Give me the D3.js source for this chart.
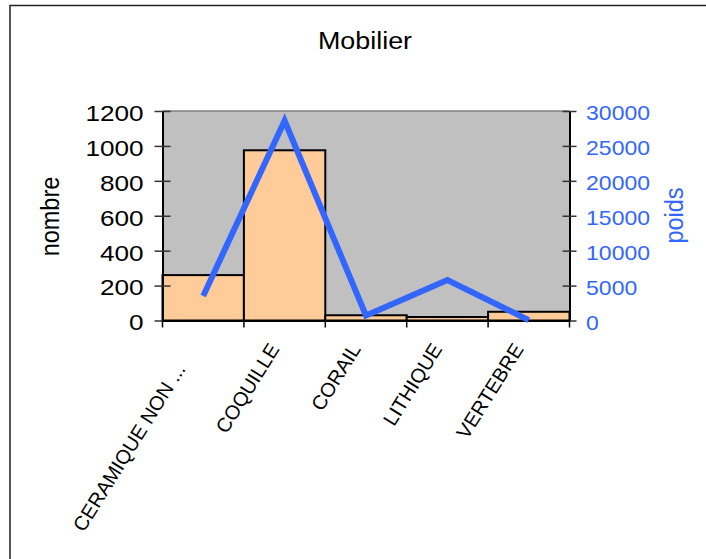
<!DOCTYPE html>
<html>
<head>
<meta charset="utf-8">
<script src="https://cdn.jsdelivr.net/npm/d3@7"></script>
<style>
  body { margin: 0; background: #fff; }
  text { font-family: "Liberation Sans", Arial, sans-serif; }
</style>
</head>
<body>
<svg id="chart" width="706" height="559"></svg>
<script>
// data
var categories = ['CERAMIQUE NON ...', 'COQUILLE', 'CORAIL', 'LITHIQUE', 'VERTEBRE'];
var nombre = [260, 975, 30, 20, 50];
var poids = [3500, 28600, 700, 5800, 50];
var nombreTicks = [0, 200, 400, 600, 800, 1000, 1200];
var poidsTicks = [0, 5000, 10000, 15000, 20000, 25000, 30000];

var svg = d3.select('#chart');
var plot = { left: 162.5, right: 569.5, top: 111, bottom: 320.5 };
var blue = '#3366ff';

// outer frame (clipped on right / bottom like the original)
svg.append('rect')
    .attr('x', 10).attr('y', 5.5)
    .attr('width', 720).attr('height', 600)
    .attr('fill', 'none').attr('stroke', '#222').attr('stroke-width', 1.5);

var x = d3.scaleBand().domain(categories).range([plot.left, plot.right]).padding(0);
var yL = d3.scaleLinear().domain([0, 1200]).range([plot.bottom, plot.top]);
var yR = d3.scaleLinear().domain([0, 30000]).range([plot.bottom, plot.top]);

// plot background
svg.append('rect')
    .attr('x', plot.left).attr('y', plot.top)
    .attr('width', plot.right - plot.left).attr('height', plot.bottom - plot.top)
    .attr('fill', '#c0c0c0');
svg.append('line')
    .attr('x1', plot.left).attr('x2', plot.right)
    .attr('y1', plot.top).attr('y2', plot.top)
    .attr('stroke', '#808080').attr('stroke-width', 1.5);

// bars
svg.selectAll('.bar')
    .data(nombre)
    .enter().append('rect')
    .attr('class', 'bar')
    .attr('x', function(d, i) { return x(categories[i]); })
    .attr('y', function(d) { return yL(d); })
    .attr('width', x.bandwidth())
    .attr('height', function(d) { return yL(0) - yL(d); })
    .attr('fill', '#ffcc99')
    .attr('stroke', '#000')
    .attr('stroke-width', 2);

// axes
var axL = svg.append('g')
    .attr('transform', 'translate(' + plot.left + ',0)')
    .call(d3.axisLeft(yL).tickValues(nombreTicks).tickFormat(d3.format('d')).tickSizeInner(8).tickSizeOuter(0));
axL.selectAll('.tick line').attr('x2', 8).attr('x1', -8);
axL.selectAll('.tick text')
    .attr('x', -15.8)
    .attr('transform', 'scale(1.2,1)')
    .style('font-size', '21.8px');

var axR = svg.append('g')
    .attr('transform', 'translate(' + plot.right + ',0)')
    .call(d3.axisRight(yR).tickValues(poidsTicks).tickFormat(d3.format('d')).tickSizeInner(7).tickSizeOuter(0));
axR.selectAll('.tick line').attr('x1', -7).attr('x2', 7);
axR.selectAll('.tick text')
    .attr('x', 14.4)
    .attr('transform', 'scale(1.15,1)')
    .style('font-size', '20px');

var axB = svg.append('g')
    .attr('transform', 'translate(0,' + plot.bottom + ')')
    .call(d3.axisBottom(x).tickSize(0).tickFormat(''));

[axL, axR, axB].forEach(function(a) {
    a.select('.domain').attr('stroke', '#000').attr('stroke-width', 2);
    a.selectAll('.tick line').attr('stroke', '#333').attr('stroke-width', 1.5);
    a.selectAll('.tick text')
        .attr('dy', '0.43em')
        .style('font-family', '"Liberation Sans", Arial, sans-serif');
});
axL.selectAll('text').attr('fill', '#000');
axR.selectAll('text').attr('fill', blue);

// category boundary ticks
var bounds = categories.map(function(c) { return x(c); }).concat([plot.right]);
svg.selectAll('.ctick')
    .data(bounds)
    .enter().append('line')
    .attr('x1', function(d) { return d; }).attr('x2', function(d) { return d; })
    .attr('y1', plot.bottom).attr('y2', plot.bottom + 7)
    .attr('stroke', '#000').attr('stroke-width', 1.5);

// rotated category labels, the truncated one sits a little lower
svg.selectAll('.clabel')
    .data(categories)
    .enter().append('text')
    .attr('class', 'clabel')
    .attr('transform', function(d) {
        return 'translate(' + (x(d) + x.bandwidth() / 2 - 4.5) + ',' + (plot.bottom + 28.5) + ') rotate(-58)';
    })
    .attr('dx', function(d) { return /\.\.\.$/.test(d) ? -23.5 : 0; })
    .attr('text-anchor', 'end')
    .style('font-size', '20px')
    .text(function(d) { return d; });

// line series on right axis
var line = d3.line()
    .x(function(d, i) { return x(categories[i]) + x.bandwidth() / 2; })
    .y(function(d) { return yR(d); });
svg.append('path')
    .datum(poids)
    .attr('d', line)
    .attr('fill', 'none')
    .attr('stroke', blue)
    .attr('stroke-width', 6)
    .attr('stroke-linejoin', 'miter');

// titles
svg.append('text')
    .attr('transform', 'translate(365,49) scale(1.12,1)')
    .attr('text-anchor', 'middle')
    .style('font-size', '24px')
    .text('Mobilier');

svg.append('text')
    .attr('transform', 'translate(59,216.5) scale(1.1,1) rotate(-90)')
    .attr('text-anchor', 'middle')
    .style('font-size', '23.5px')
    .text('nombre');

svg.append('text')
    .attr('transform', 'translate(683,215.5) scale(1.1,1) rotate(-90)')
    .attr('text-anchor', 'middle')
    .attr('fill', blue)
    .style('font-size', '23.5px')
    .text('poids');
</script>
</body>
</html>
